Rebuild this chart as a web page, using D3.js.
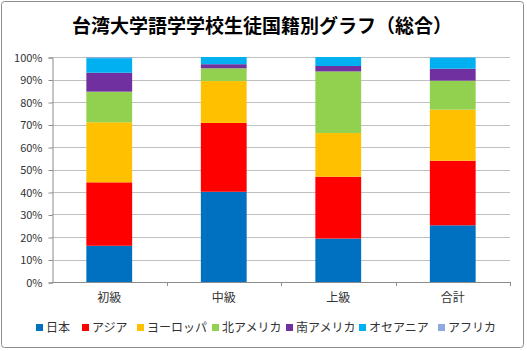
<!DOCTYPE html>
<html><head><meta charset="utf-8">
<script src="https://cdn.jsdelivr.net/npm/d3@7"></script>
<style>body{margin:0;background:#fff}svg{display:block}</style>
</head><body>
<svg id="c" width="527" height="351"></svg>
<script>
const categories = ["初級", "中級", "上級", "合計"];
const seriesNames = ["日本", "アジア", "ヨーロッパ", "北アメリカ", "南アメリカ", "オセアニア", "アフリカ"];
const japan     = [16.1, 40.1, 19.3, 25.2];
const asia      = [28.2, 30.6, 27.5, 28.7];
const europe    = [26.7, 18.6, 19.4, 22.7];
const nAmerica  = [13.6, 5.7, 27.4, 12.9];
const sAmerica  = [8.4, 1.8, 2.4, 5.3];
const oceania   = [6.5, 3.2, 4.0, 5.0];
const africa    = [0.5, 0.0, 0.0, 0.2];
const yTicks = [0,10,20,30,40,50,60,70,80,90,100];
const colors = ["#0070C0", "#FF0000", "#FFC000", "#92D050", "#7030A0", "#00B0F0", "#8EA9DB"];

const seriesVals = [japan, asia, europe, nAmerica, sAmerica, oceania, africa];
const rows = categories.map((c, i) => {
  const r = {cat: c};
  seriesNames.forEach((s, j) => r[s] = seriesVals[j][i]);
  return r;
});
const stacked = d3.stack().keys(seriesNames)(rows);

const svg = d3.select("#c");
const font = "'Noto Sans CJK JP', 'Noto Sans', sans-serif";

svg.append("rect").attr("x", 1.5).attr("y", 1.5).attr("width", 522).attr("height", 346)
  .attr("rx", 3).attr("fill", "#fff").attr("stroke", "#8c8c8c").attr("stroke-width", 1);

svg.append("text").attr("x", 262).attr("y", 33).attr("text-anchor", "middle")
  .attr("font-family", font).attr("font-size", 19).attr("font-weight", "bold").attr("fill", "#000")
  .text("台湾大学語学学校生徒国籍別グラフ（総合）");

const L = 52, R = 510, T = 57, B = 282;
const x = d3.scaleBand().domain(categories).range([L, R]).paddingInner(0.6).paddingOuter(0.3);
const y = d3.scaleLinear().domain([0, 100]).range([B, T]);

// gridlines
svg.append("g").selectAll("line").data(yTicks.filter(t => t > 0)).join("line")
  .attr("x1", L).attr("x2", R).attr("y1", d => Math.round(y(d)) + 0.5).attr("y2", d => Math.round(y(d)) + 0.5)
  .attr("stroke", "#c0c0c0").attr("stroke-width", 1);

// bars
svg.append("g").selectAll("g").data(stacked).join("g")
  .attr("fill", (d, i) => colors[i])
  .selectAll("rect").data(d => d).join("rect")
  .attr("x", d => x(d.data.cat))
  .attr("width", x.bandwidth())
  .attr("y", d => y(d[1]))
  .attr("height", d => Math.max(0, y(d[0]) - y(d[1])));

// y axis
const yAxis = d3.axisLeft(y).tickValues(yTicks).tickFormat(d => d + "%").tickSize(4).tickPadding(6);
const gy = svg.append("g").attr("transform", `translate(${L + 0.5},0.5)`).call(yAxis);
gy.select(".domain").attr("stroke", "#8c8c8c");
gy.selectAll(".tick line").attr("stroke", "#8c8c8c");
gy.selectAll(".tick text").attr("font-family", font).attr("font-size", 11).attr("fill", "#333");

// x axis
svg.append("line").attr("x1", L).attr("x2", R).attr("y1", B + 0.5).attr("y2", B + 0.5).attr("stroke", "#8c8c8c");
const step = x.step();
const bounds = d3.range(1, categories.length + 1).map(i => L + (R - L) / categories.length * i);
svg.append("g").selectAll("line").data(bounds).join("line")
  .attr("x1", d => Math.round(d) + 0.5).attr("x2", d => Math.round(d) + 0.5).attr("y1", B).attr("y2", B + 4)
  .attr("stroke", "#8c8c8c");
svg.append("g").selectAll("text").data(categories).join("text")
  .attr("x", d => x(d) + x.bandwidth() / 2).attr("y", 302).attr("text-anchor", "middle")
  .attr("font-family", font).attr("font-size", 12).attr("fill", "#333").text(d => d);

// legend
const legendX = [36, 82, 137, 212, 286, 359, 438];
const lg = svg.append("g").selectAll("g").data(seriesNames).join("g")
  .attr("transform", (d, i) => `translate(${legendX[i]},322)`);
lg.append("rect").attr("x", 0).attr("y", 2).attr("width", 7).attr("height", 7).attr("fill", (d, i) => colors[i]);
lg.append("text").attr("x", 10).attr("y", 9.5).attr("font-family", font).attr("font-size", 12)
  .attr("fill", "#333").text(d => d);
</script>
</body></html>
